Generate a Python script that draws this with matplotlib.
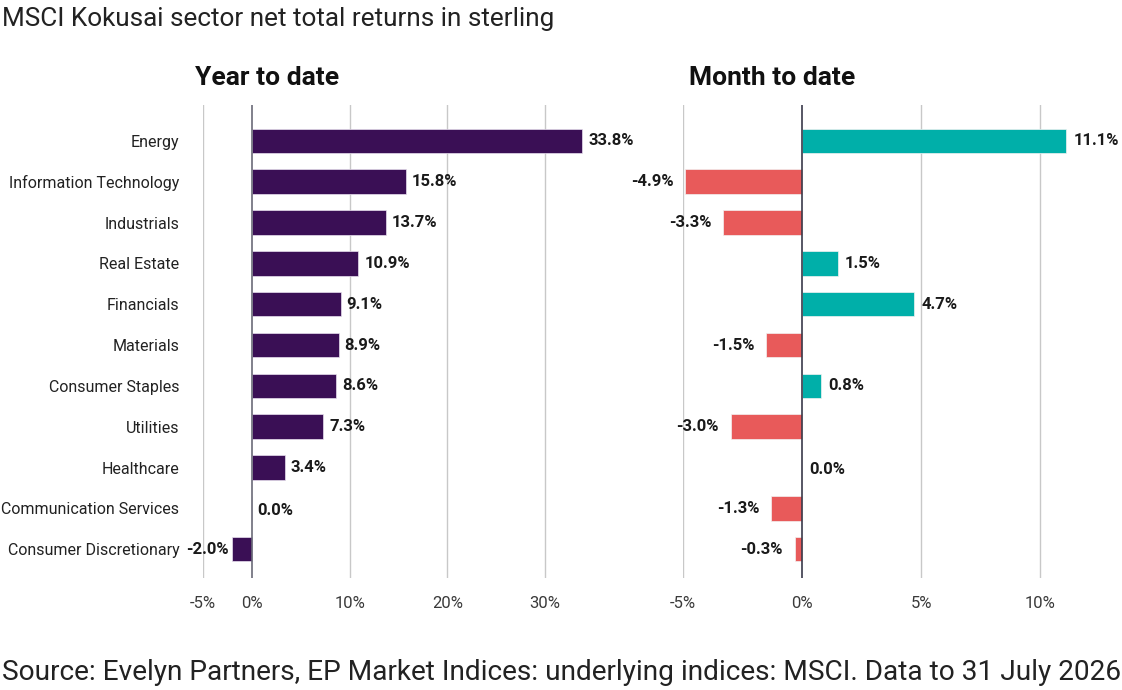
import numpy as np
import matplotlib.pyplot as plt

plt.rcParams['font.family'] = ['Roboto', 'DejaVu Sans']

sectors = ["Energy", "Information Technology", "Industrials", "Real Estate",
           "Financials", "Materials", "Consumer Staples", "Utilities",
           "Healthcare", "Communication Services", "Consumer Discretionary"]
ytd = [33.8, 15.8, 13.7, 10.9, 9.1, 8.9, 8.6, 7.3, 3.4, 0.0, -2.0]
mtd = [11.1, -4.9, -3.3, 1.5, 4.7, -1.5, 0.8, -3.0, 0.0, -1.3, -0.3]

ytd_ticks = [-5, 0, 10, 20, 30]
mtd_ticks = [-5, 0, 5, 10]

purple = "#3A0F55"
teal = "#00AFA9"
red = "#E85A5A"
grid_col = "#C8C8C8"
txt = "#1A1A1A"

fig = plt.figure(figsize=(11.22, 6.90), dpi=100)
ax1 = fig.add_axes([0.1809, 0.162, 0.3485, 0.686])
ax2 = fig.add_axes([0.6087, 0.162, 0.3503, 0.686])

y = np.arange(len(sectors))


def style(ax, ticks, xlim, zero_col):
    ax.set_xlim(*xlim)
    ax.set_ylim(10.71, -0.88)
    for s in ax.spines.values():
        s.set_visible(False)
    ax.set_xticks(ticks)
    ax.set_xticklabels([f"{t}%" for t in ticks], fontsize=12, color="#3a3a3a")
    ax.tick_params(axis="x", length=0, pad=13)
    ax.tick_params(axis="y", length=0)
    for t in ticks:
        if t != 0:
            ax.axvline(t, color=grid_col, lw=1, zorder=0)
    ax.axvline(0, color=zero_col, lw=1.2, zorder=3)


def bar_labels(ax, vals, off_pos, off_neg):
    for yi, v in zip(y, vals):
        if v > 0:
            ax.text(v + off_pos, yi, f"{v:.1f}%", va="center", ha="left", fontsize=12, fontweight="bold", color=txt)
        elif v < 0:
            ax.text(v - off_neg, yi, f"{v:.1f}%", va="center", ha="right", fontsize=12, fontweight="bold", color=txt)
        else:
            ax.text(off_pos, yi + 0.05, f"{v:.1f}%", va="center", ha="left", fontsize=12, fontweight="bold", color=txt)


# year to date
ax1.barh(y, ytd, height=0.6, color=purple, edgecolor="#e8e0ee", lw=0.5, zorder=2)
style(ax1, ytd_ticks, (-5, 35), "#6b6b78")
ax1.set_yticks(y)
ax1.set_yticklabels(sectors, fontsize=11.5, color="#222222")
ax1.tick_params(axis="y", pad=17)
bar_labels(ax1, ytd, 0.6, 0.4)

# month to date
cols = [teal if v >= 0 else red for v in mtd]
ax2.barh(y, mtd, height=0.6, color=cols, edgecolor="#f2f2f2", lw=0.5, zorder=2)
style(ax2, mtd_ticks, (-5, 11.5), "#3a3a4a")
ax2.set_yticks([])
bar_labels(ax2, mtd, 0.3, 0.5)

fig.text(0.238, 0.887, "Year to date", fontsize=19, fontweight="bold", color="#111111", ha="center", va="center")
fig.text(0.688, 0.887, "Month to date", fontsize=19, fontweight="bold", color="#111111", ha="center", va="center")

fig.text(0.002, 0.963, "MSCI Kokusai sector net total returns in sterling",
         fontsize=18.8, color="#222222", va="baseline", ha="left")
fig.text(0.002, 0.0145, "Source: Evelyn Partners, EP Market Indices: underlying indices: MSCI. Data to 31 July 2026",
         fontsize=20.15, color="#222222", va="baseline", ha="left")

fig.savefig("out.png", dpi=100)
